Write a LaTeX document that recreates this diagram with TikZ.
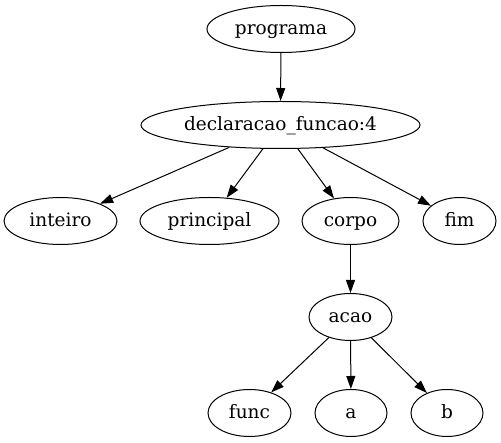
\documentclass[tikz,border=0pt]{standalone}
\usepackage{fontspec}
\setmainfont{DejaVu Serif}
\usetikzlibrary{shapes.geometric,arrows.meta}
\begin{document}
\begin{tikzpicture}[x=1pt,y=1pt,
  tnode/.style={draw,ellipse,line width=1pt,inner sep=0pt,minimum height=47,
    text height=14pt,text depth=3pt,
    font=\fontsize{18.5}{22}\selectfont},
  edge/.style={draw,line width=1pt,-{Triangle[length=13pt,width=9pt]}}]
\useasboundingbox (0,0) rectangle (501,-443);
\node[tnode,minimum width=148] (p) at (281,-29) {programa};
\node[tnode,minimum width=279] (d) at (280.5,-125) {declaracao\_funcao:4};
\node[tnode,minimum width=113] (i) at (60.5,-221) {inteiro};
\node[tnode,minimum width=139] (pr) at (209.5,-221) {principal};
\node[tnode,minimum width=97] (c) at (350.5,-221) {corpo};
\node[tnode,minimum width=73] (f) at (459.5,-221) {fim};
\node[tnode,minimum width=83] (ac) at (350.5,-317) {acao};
\node[tnode,minimum width=83] (fu) at (249.5,-413) {func};
\node[tnode,minimum width=72] (a) at (351,-413) {a};
\node[tnode,minimum width=72] (b) at (447,-413) {b};
\draw[edge] (p) -- (d);
\draw[edge] (d) -- (i);
\draw[edge] (d) -- (pr);
\draw[edge] (d) -- (c);
\draw[edge] (d) -- (f);
\draw[edge] (c) -- (ac);
\draw[edge] (ac) -- (fu);
\draw[edge] (ac) -- (a);
\draw[edge] (ac) -- (b);
\end{tikzpicture}
\end{document}
